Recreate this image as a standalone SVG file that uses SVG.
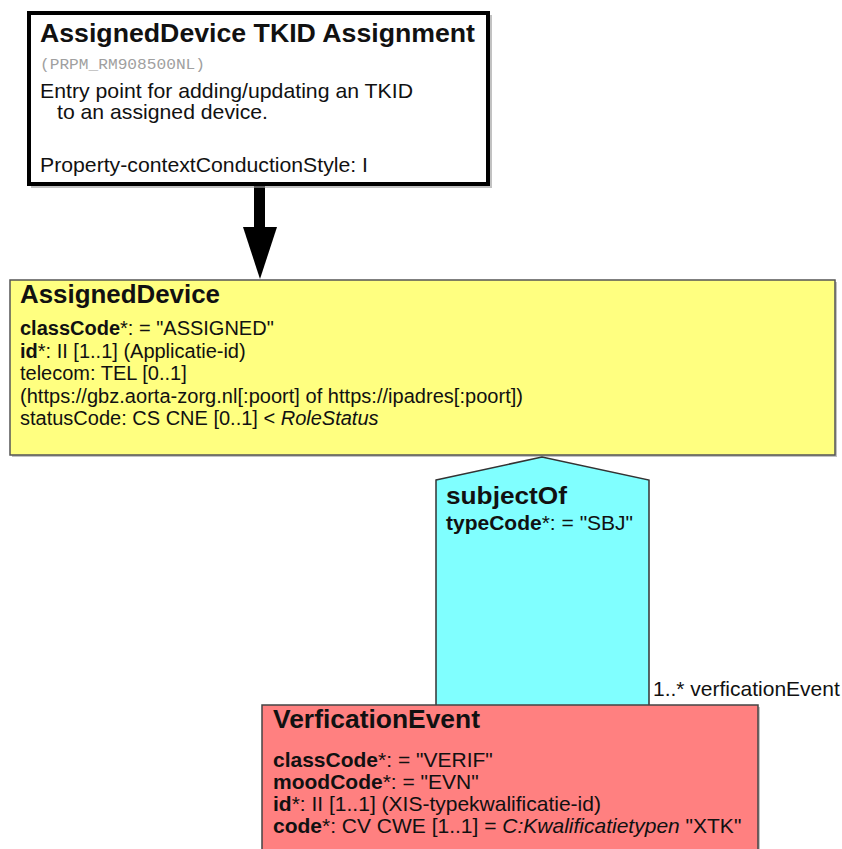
<svg xmlns="http://www.w3.org/2000/svg" width="842" height="849" viewBox="0 0 842 849">
<style>
text{font-family:"Liberation Sans",Arial,sans-serif;fill:#111}
.t{font-size:25px;font-weight:bold}
.t2{font-size:24px;font-weight:bold}
.b{font-size:20px}
.c{font-size:21px}
.bd{font-weight:bold}
.it{font-style:italic}
.mono{font-family:"Liberation Mono","Courier New",monospace;font-size:15px;fill:#a0a0a0}
.shadow{fill:#999;opacity:0.6}
</style>
<g id="connectors">
<rect x="254" y="184" width="11" height="45" fill="#000"/>
<polygon points="243,227 277,227 260,279" fill="#000"/>
</g>
<g id="entry">
<rect class="shadow" x="31" y="15" width="461" height="173"/>
<rect x="29" y="13" width="459" height="171" fill="#fff" stroke="#000" stroke-width="4"/>
<text class="t" x="40" y="42" textLength="435" lengthAdjust="spacingAndGlyphs">AssignedDevice TKID Assignment</text>
<text class="mono" x="40" y="69" textLength="165" lengthAdjust="spacingAndGlyphs">(PRPM_RM908500NL)</text>
<text class="c" x="40" y="98" textLength="373" lengthAdjust="spacingAndGlyphs">Entry point for adding/updating an TKID</text>
<text class="c" x="57" y="119" textLength="211" lengthAdjust="spacingAndGlyphs">to an assigned device.</text>
<text class="c" x="40" y="172" textLength="328" lengthAdjust="spacingAndGlyphs">Property-contextConductionStyle: I</text>
</g>
<g id="assignedDevice">
<rect class="shadow" x="12" y="282" width="825" height="175"/>
<rect x="10" y="280" width="825" height="175" fill="#ffff80" stroke="#555" stroke-width="1.5"/>
<text class="t" x="20" y="303" textLength="200" lengthAdjust="spacingAndGlyphs">AssignedDevice</text>
<text class="b" x="20" y="335"><tspan class="bd">classCode</tspan>*: = "ASSIGNED"</text>
<text class="b" x="20" y="357.5"><tspan class="bd">id</tspan>*: II [1..1] (Applicatie-id)</text>
<text class="b" x="20" y="380">telecom: TEL [0..1]</text>
<text class="b" x="20" y="402.5" textLength="503"> (https://gbz.aorta-zorg.nl[:poort] of https://ipadres[:poort])</text>
<text class="b" x="20" y="425">statusCode: CS CNE [0..1] &lt; <tspan class="it">RoleStatus</tspan></text>
</g>
<g id="subjectOf">
<path d="M436,480 L542,457 L649,480 L649,706 L436,706 Z" fill="#80ffff" stroke="#333" stroke-width="1.5"/>
<text class="t2" x="446" y="504" textLength="121" lengthAdjust="spacingAndGlyphs">subjectOf</text>
<text class="c" x="446" y="530"><tspan class="bd">typeCode</tspan>*: = "SBJ"</text>
<text class="c" x="653" y="696">1..* verficationEvent</text>
</g>
<g id="verficationEvent">
<rect class="shadow" x="264" y="707" width="496" height="160"/>
<rect x="262" y="705" width="496" height="160" fill="#ff8080" stroke="#444" stroke-width="1.5"/>
<text class="t" x="273" y="728" textLength="207" lengthAdjust="spacingAndGlyphs">VerficationEvent</text>
<text class="c" x="273" y="767"><tspan class="bd">classCode</tspan>*: = "VERIF"</text>
<text class="c" x="273" y="789"><tspan class="bd">moodCode</tspan>*: = "EVN"</text>
<text class="c" x="273" y="811"><tspan class="bd">id</tspan>*: II [1..1] (XIS-typekwalificatie-id)</text>
<text class="c" x="273" y="833"><tspan class="bd">code</tspan>*: CV CWE [1..1] = <tspan class="it">C:Kwalificatietypen</tspan> "XTK"</text>
</g>
</svg>
